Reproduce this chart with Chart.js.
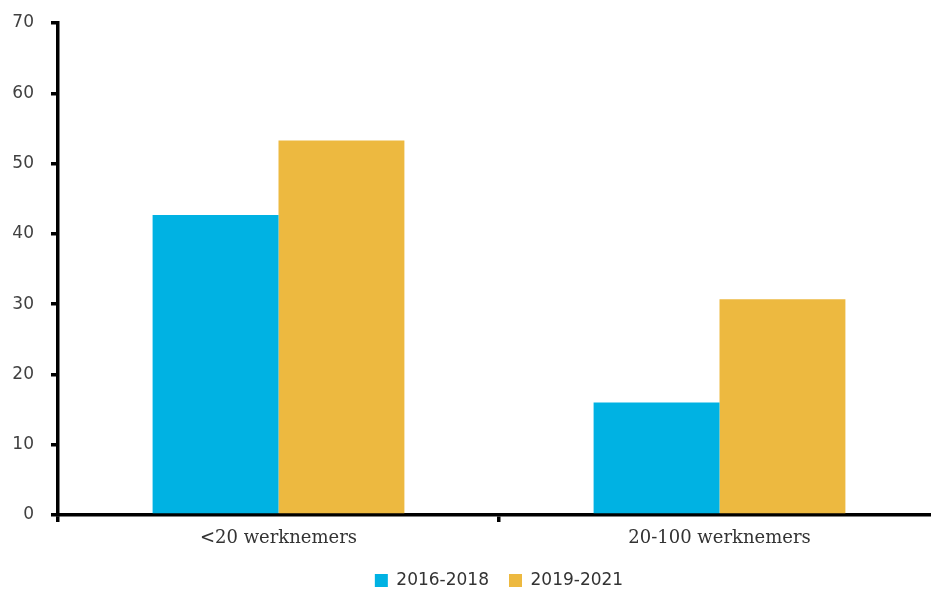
<!DOCTYPE html>
<html>
<head>
<meta charset="utf-8">
<script src="https://cdn.jsdelivr.net/npm/chart.js@4.4.1/dist/chart.umd.min.js"></script>
<style>
  html, body { margin: 0; padding: 0; background: #fff; overflow: hidden; }
  #wrap { width: 944px; height: 594px; }
</style>
</head>
<body>
<div id="wrap"><canvas id="chart" width="944" height="594"></canvas></div>
<script>
// categories and series
const categories = ["<20 werknemers", "20-100 werknemers"];
const period1 = [42.7, 16.0];   // 2016-2018
const period2 = [53.3, 30.7];   // 2019-2021
const seriesLabels = ["2016-2018", "2019-2021"];
const yTicks = [0, 10, 20, 30, 40, 50, 60, 70];

const BLUE = "#00B2E3";
const YELLOW = "#EDB940";
const AXIS = "#000000";
const TEXT = "#404040";

// legend keeps its top padding but gets a fixed box height
const legendHeight = {
  id: "legendHeight",
  afterInit(chart) {
    const legend = chart.legend;
    if (!legend) return;
    const fit = legend.fit;
    legend.fit = function () {
      fit.call(this);
      this.height = 42;
    };
  }
};

const canvas = document.getElementById("chart");
new Chart(canvas.getContext("2d"), {
  type: "bar",
  data: {
    labels: categories,
    datasets: [
      { label: seriesLabels[0], data: period1, backgroundColor: BLUE, borderWidth: 0 },
      { label: seriesLabels[1], data: period2, backgroundColor: YELLOW, borderWidth: 0 },
    ]
  },
  options: {
    responsive: false,
    animation: false,
    barPercentage: 1,
    categoryPercentage: 0.571,
    layout: { padding: { top: 23, right: 4, left: 0, bottom: 0 } },
    scales: {
      y: {
        min: 0,
        max: 70,
        afterBuildTicks: scale => { scale.ticks = yTicks.map(v => ({ value: v })); },
        afterFit: scale => {
          scale.width = 58;
          scale.paddingTop = 0;
          scale.paddingBottom = 0;
        },
        ticks: {
          padding: 17,
          color: TEXT,
          font: { family: "DejaVu Sans", size: 17 },
        },
        grid: { drawOnChartArea: false, tickLength: 7, color: AXIS, lineWidth: 3.5 },
        border: { color: AXIS, width: 3.5 },
      },
      x: {
        afterFit: scale => { scale.height = 37; },
        ticks: {
          padding: 6,
          color: "#333333",
          font: { family: "DejaVu Serif", size: 18 },
        },
        grid: { drawOnChartArea: false, tickLength: 7, color: AXIS, lineWidth: 3.5, offset: true },
        border: { color: AXIS, width: 3.5 },
      }
    },
    plugins: {
      legend: {
        position: "bottom",
        fullSize: false,
        labels: {
          boxWidth: 13,
          boxHeight: 13,
          padding: 20,
          color: "#333333",
          font: { family: "DejaVu Sans", size: 17 },
        }
      },
      tooltip: { enabled: false },
    }
  },
  plugins: [legendHeight],
});
</script>
</body>
</html>
